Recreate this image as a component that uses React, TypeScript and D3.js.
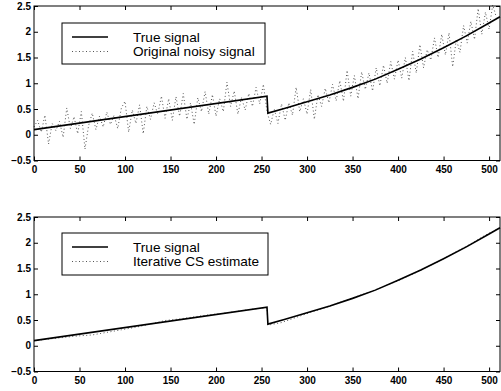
import React, { useEffect, useRef } from 'react';
import * as d3 from 'd3';

// true signal breakpoints (sample index, value)
const trueX = [0, 256, 257, 275, 300, 325, 350, 375, 400, 425, 450, 475, 500, 512];
const trueY = [0.1, 0.75, 0.42, 0.51, 0.64, 0.77, 0.92, 1.08, 1.27, 1.47, 1.69, 1.92, 2.17, 2.29];

// noisy observation, one value every 4 samples
const noisyStep = 4;
const noisyY = [
  0.15, 0.28, 0.05, 0.38, -0.18, 0.22, 0.08, 0.26, -0.05, 0.52, 0.12, 0.35, 0.02, 0.45, -0.28, 0.18,
  0.42, 0.10, 0.36, 0.15, 0.44, 0.2, 0.38, 0.12, 0.52, 0.65, 0.05, 0.48, 0.22, 0.58, 0.02, 0.55,
  0.3, 0.62, 0.4, 0.75, 0.32, 0.7, 0.28, 0.74, 0.36, 0.8, 0.3, 0.62, 0.2, 0.72, 0.45, 0.84,
  0.4, 0.78, 0.36, 0.7, 0.45, 1.02, 0.55, 0.85, 0.4, 0.72, 0.48, 0.8, 0.55, 0.92, 0.6, 0.98,
  0.45, 0.2, 0.5, 0.22, 0.6, 0.28, 0.62, 0.38, 0.92, 0.45, 0.7, 0.4, 0.88, 0.3, 0.78, 0.55,
  0.9, 0.62, 0.98, 0.66, 1.05, 0.65, 1.25, 0.75, 1.15, 0.7, 1.22, 0.88, 1.2, 0.85, 1.3, 0.95,
  1.35, 1.0, 1.42, 1.08, 1.45, 1.1, 1.5, 1.05, 1.62, 1.2, 1.75, 1.3, 1.65, 1.45, 1.88, 1.5,
  1.95, 1.55, 1.98, 1.32, 1.85, 1.6, 2.12, 1.78, 2.2, 1.85, 2.45, 1.95, 2.38, 2.05, 2.52, 2.28,
];

// iterative CS estimate
const estX = [0, 16, 32, 48, 64, 80, 96, 112, 128, 144, 160, 176, 192, 208, 224, 240, 256, 257,
  272, 288, 304, 320, 336, 352, 368, 384, 400, 416, 432, 448, 464, 480, 496, 512];
const estY = [0.1, 0.13, 0.16, 0.19, 0.21, 0.26, 0.31, 0.36, 0.42, 0.49, 0.52, 0.56, 0.6, 0.63, 0.67, 0.71, 0.74, 0.4,
  0.45, 0.55, 0.65, 0.74, 0.84, 0.94, 1.04, 1.15, 1.26, 1.39, 1.53, 1.67, 1.83, 1.98, 2.15, 2.29];

const xTicks = [0, 50, 100, 150, 200, 250, 300, 350, 400, 450, 500];
const yTicks = [-0.5, 0, 0.5, 1, 1.5, 2, 2.5];

const panels = [
  { top: 6, labels: ['True signal', 'Original noisy signal'], legendBox: [62, 23, 203, 41] },
  { top: 217, labels: ['True signal', 'Iterative CS estimate'], legendBox: [62, 233, 206, 42] },
];

const App = () => {
  const ref = useRef<SVGSVGElement>(null);

  useEffect(() => {
    const width = 501;
    const height = 391;
    const left = 34;
    const right = 500;
    const plotH = 154.5;
    const font = 'Liberation Sans, Arial, sans-serif';

    const svg = d3.select(ref.current).attr('width', width).attr('height', height);
    svg.selectAll('*').remove();
    svg.append('rect').attr('width', width).attr('height', height).attr('fill', '#fff');

    const x = d3.scaleLinear().domain([0, 512]).range([left, right]);

    const trueData = trueX.map((v, i) => [v, trueY[i]]);
    const noisyData = noisyY.map((v, i) => [i * noisyStep, v]);
    const estData = estX.map((v, i) => [v, estY[i]]);

    panels.forEach((p, pi) => {
      const y = d3.scaleLinear().domain([-0.5, 2.5]).range([p.top + plotH, p.top]);
      const g = svg.append('g');

      const line = d3.line<number[]>().x(d => x(d[0])).y(d => y(d[1]));

      // dotted series first, true signal on top
      const dotted = pi === 0 ? noisyData : estData;
      g.append('path')
        .attr('d', line(dotted))
        .attr('fill', 'none')
        .attr('stroke', '#555')
        .attr('stroke-width', 1)
        .attr('stroke-dasharray', '1,2.5');

      g.append('path')
        .attr('d', line(trueData))
        .attr('fill', 'none')
        .attr('stroke', '#000')
        .attr('stroke-width', 1.6);

      // axes with inward ticks on all sides
      const styleAxis = (a: any) => {
        a.select('.domain').remove();
        a.selectAll('line').attr('stroke', '#000');
        a.selectAll('text').attr('font-family', font).attr('font-size', 10).attr('font-weight', 'bold').attr('fill', '#000');
      };

      g.append('g')
        .attr('transform', `translate(0,${p.top + plotH})`)
        .call(d3.axisBottom(x).tickValues(xTicks).tickSize(-4).tickPadding(5))
        .call(styleAxis);
      g.append('g')
        .attr('transform', `translate(0,${p.top})`)
        .call(d3.axisTop(x).tickValues(xTicks).tickSize(-4).tickFormat(() => ''))
        .call(styleAxis);
      g.append('g')
        .attr('transform', `translate(${left},0)`)
        .call(d3.axisLeft(y).tickValues(yTicks).tickSize(-4).tickPadding(3).tickFormat(d3.format('')))
        .call(styleAxis);
      g.append('g')
        .attr('transform', `translate(${right},0)`)
        .call(d3.axisRight(y).tickValues(yTicks).tickSize(-4).tickFormat(() => ''))
        .call(styleAxis);

      g.append('rect')
        .attr('x', left)
        .attr('y', p.top)
        .attr('width', right - left)
        .attr('height', plotH)
        .attr('fill', 'none')
        .attr('stroke', '#000')
        .attr('stroke-width', 1);

      // legend
      const [bx, by, bw, bh] = p.legendBox;
      const lg = g.append('g');
      lg.append('rect')
        .attr('x', bx)
        .attr('y', by)
        .attr('width', bw)
        .attr('height', bh)
        .attr('fill', '#fff')
        .attr('stroke', '#000')
        .attr('stroke-width', 1);
      p.labels.forEach((label, li) => {
        const cy = by + 14 + li * 14.5;
        lg.append('line')
          .attr('x1', bx + 10)
          .attr('x2', bx + 46)
          .attr('y1', cy)
          .attr('y2', cy)
          .attr('stroke', li === 0 ? '#000' : '#555')
          .attr('stroke-width', li === 0 ? 1.6 : 1)
          .attr('stroke-dasharray', li === 0 ? null : '1,2.5');
        lg.append('text')
          .attr('x', bx + 71)
          .attr('y', cy + 4.5)
          .attr('font-family', font)
          .attr('font-size', 13.6)
          .attr('fill', '#000')
          .text(label);
      });
    });
  }, []);

  return <svg ref={ref} style={{ position: 'absolute', left: 0, top: 0 }} />;
};

export default App;
